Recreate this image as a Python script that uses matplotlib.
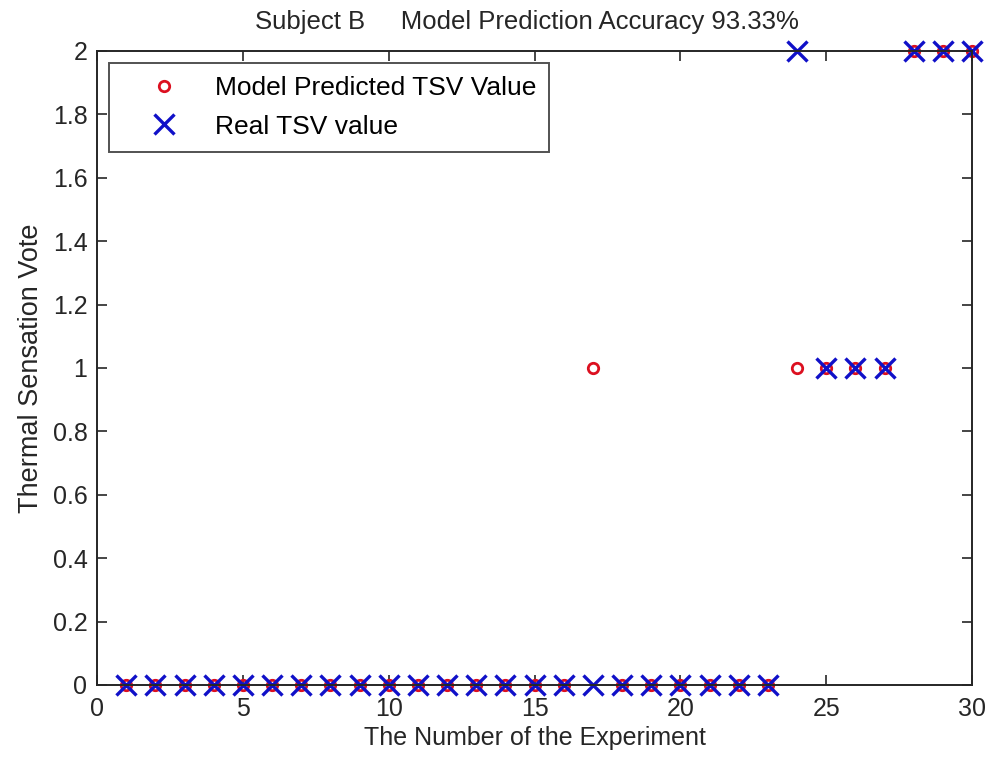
import matplotlib
matplotlib.use("Agg")
import matplotlib.pyplot as plt

plt.rcParams["font.family"] = ["Liberation Sans", "DejaVu Sans"]

# experiment index and TSV values
experiments = list(range(1, 31))
predicted_tsv = [0] * 16 + [1] + [0] * 6 + [1, 1, 1, 1] + [2, 2, 2]
real_tsv = [0] * 23 + [2] + [1, 1, 1] + [2, 2, 2]

x_ticks = [0, 5, 10, 15, 20, 25, 30]
y_ticks = [0, 0.2, 0.4, 0.6, 0.8, 1, 1.2, 1.4, 1.6, 1.8, 2]
y_ticklabels = ["0", "0.2", "0.4", "0.6", "0.8", "1", "1.2", "1.4", "1.6", "1.8", "2"]

INK = "#262626"

fig = plt.figure(figsize=(9.91, 7.61), dpi=100)
ax = fig.add_axes([0.098, 0.100, 0.883, 0.833])

ax.plot(experiments, predicted_tsv, ls="none", marker="o", ms=7.5, mfc="none",
        mec="#dc1020", mew=2.0, label="Model Predicted TSV Value", clip_on=False)
ax.plot(experiments, real_tsv, ls="none", marker="x", ms=14, mec="#1010c8",
        mew=2.4, label="Real TSV value", clip_on=False)

ax.set_xlim(0, 30)
ax.set_ylim(0, 2)
ax.set_xticks(x_ticks)
ax.set_yticks(y_ticks)
ax.set_yticklabels(y_ticklabels)
ax.tick_params(direction="in", top=True, right=True, length=7, width=1.2,
               labelsize=18, colors=INK, pad=7)
ax.tick_params(axis="x", pad=9)
for s in ax.spines.values():
    s.set_linewidth(1.4)
    s.set_color(INK)

ax.set_xlabel("The Number of the Experiment", fontsize=18, color=INK, labelpad=3)
ax.set_ylabel("Thermal Sensation Vote", fontsize=19.5, color=INK, labelpad=6)
ax.set_title("Subject B     Model Prediction Accuracy 93.33%", fontsize=18.5,
             color=INK, pad=16, x=0.491)

leg = ax.legend(loc="upper left", fontsize=19, frameon=True, fancybox=False,
                borderaxespad=0.45, handletextpad=0.3, borderpad=0.5,
                labelspacing=0.55, handlelength=3.2)
leg.get_frame().set_edgecolor(INK)
leg.get_frame().set_linewidth(1.4)

fig.savefig("out.png", dpi=100, facecolor="white")
